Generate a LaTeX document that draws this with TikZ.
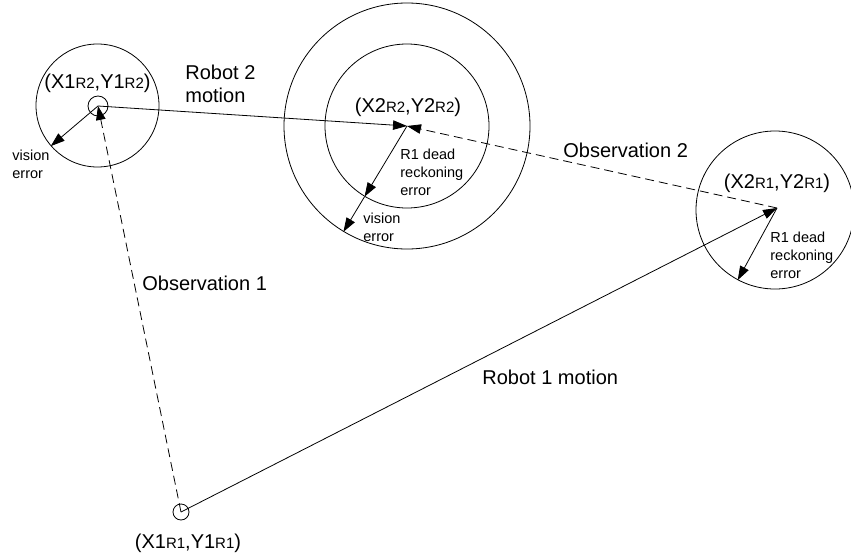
\documentclass[tikz,border=0pt]{standalone}
\usepackage{fontspec}
\setmainfont{Liberation Sans}
\usetikzlibrary{arrows.meta}
\newcommand{\rsub}[1]{{\fontsize{15}{15}\selectfont #1}}
\begin{document}
\begin{tikzpicture}[x=1pt,y=-1pt,
  line width=0.8pt,
  arr/.style={-{Triangle[length=14pt,width=9.5pt]}},
  obs/.style={dash pattern=on 9pt off 5pt},
  ring/.style={circle,draw,inner sep=0pt},
  big/.style={font=\fontsize{20}{23}\selectfont, inner sep=0pt, align=left},
  small/.style={font=\fontsize{14.5}{18}\selectfont, inner sep=0pt, align=left},
]
\useasboundingbox (0,0) rectangle (851,554);
% points
\coordinate (p1r2) at (98,106);
\coordinate (p2r2) at (407,126);
\coordinate (p2r1) at (777,208);
\coordinate (p1r1) at (181,512);
% circles
\node[ring,minimum size=123pt] (c1) at (97.5,105.5) {};
\node[ring,minimum size=20pt] (s1) at (p1r2) {};
\node[ring,minimum size=16pt] (s2) at (p1r1) {};
\node[ring,minimum size=164pt] (c2in) at (p2r2) {};
\node[ring,minimum size=246pt] (c2out) at (p2r2) {};
\node[ring,minimum size=158pt] (c3) at (775,210) {};
% connectors
\draw[arr] (p1r2) -- (p2r2);
\draw[arr,obs] (p1r1) -- (p1r2);
\draw[arr] (p1r1) -- (p2r1);
\draw[arr,obs] (p2r1) -- (p2r2);
\draw[arr] (p1r2) -- (c1.221);
\draw[arr] (p2r2) -- (c2in.239);
\draw[arr] (c2in.239) -- (c2out.239);
\draw[arr] (p2r1) -- (c3.242);
% labels
\node[big] (l1r2) at (97.5,83) {(X1\rsub{R2},Y1\rsub{R2})};
\node[big] (l2r2) at (408,107) {(X2\rsub{R2},Y2\rsub{R2})};
\node[big] (l2r1) at (777,183) {(X2\rsub{R1},Y2\rsub{R1})};
\node[big] (l1r1) at (188,543) {(X1\rsub{R1},Y1\rsub{R1})};
\node[big,anchor=west] (m2) at (185,84) {Robot 2\\motion};
\node[big,anchor=west] (o1) at (142,283) {Observation 1};
\node[big,anchor=west] (m1) at (482,377) {Robot 1 motion};
\node[big,anchor=west] (o2) at (563,150) {Observation 2};
\node[small,anchor=west] (ve1) at (12,164) {vision\\error};
\node[small,anchor=west] (dr2) at (400,172) {R1 dead\\reckoning\\error};
\node[small,anchor=west] (ve2) at (363,227) {vision\\error};
\node[small,anchor=west] (dr1) at (770,255) {R1 dead\\reckoning\\error};
\end{tikzpicture}
\end{document}
